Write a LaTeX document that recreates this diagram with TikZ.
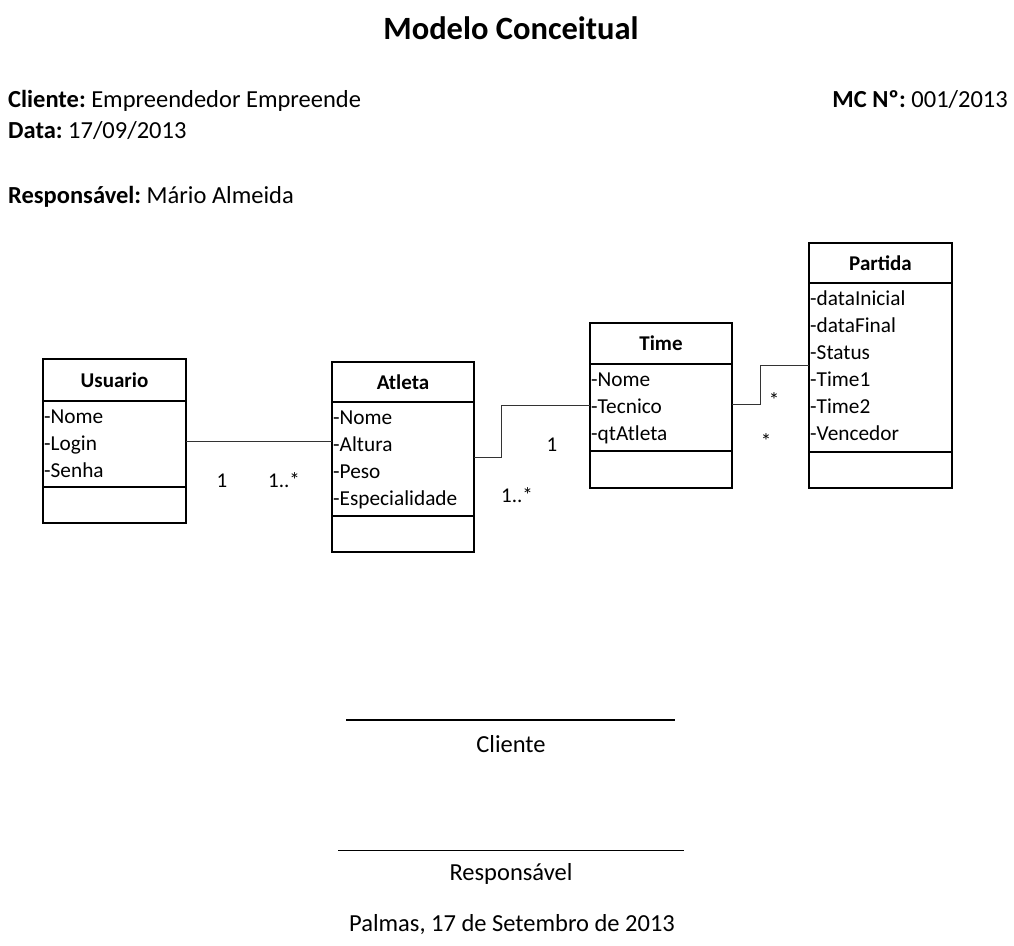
\documentclass[tikz,border=0pt]{standalone}
\usepackage{fontspec}
\setmainfont{Carlito}
\usetikzlibrary{fit}
\frenchspacing
\begin{document}
\begin{tikzpicture}[x=1pt,y=-1pt,
  classbox/.style={draw, line width=1.6pt, inner sep=0pt, outer sep=0pt},
  classname/.style={font=\bfseries\fontsize{21}{25}\selectfont, inner sep=0pt},
  attr/.style={font=\fontsize{21.3}{25}\selectfont, anchor=base west, inner sep=0pt},
  assoc/.style={line width=1pt, draw=black!80},
  mult/.style={font=\fontsize{21}{25}\selectfont, inner sep=0pt},
  hdr/.style={font=\fontsize{24.5}{29}\selectfont, anchor=base west, inner sep=0pt},
  foot/.style={font=\fontsize{24.5}{29}\selectfont, anchor=base, inner sep=0pt}]
\useasboundingbox (0,0) rectangle (1014,945);

% class box: name, left, top, right, bottom, name line, attribute line, title, attributes
\newcommand\umlclass[9]{%
  \node[classbox, fit={(#2,#3) (#4,#5)}] (#1) {};
  \draw[line width=1.6pt] (#2,#6) -- (#4,#6);
  \draw[line width=1.6pt] (#2,#7) -- (#4,#7);
  \node[classname] at ({(#2+#4)/2},{(#3+#6)/2}) {#8};
  \foreach \a [count=\i] in {#9}
    \node[attr] at ({#2+1},{#6+22+27*(\i-1)}) {\a};
}

% heading
\node[font=\bfseries\fontsize{32.5}{38}\selectfont, anchor=base, inner sep=0pt] (titulo) at (511,39.5) {Modelo Conceitual};
\node[hdr] (cliente) at (8,107) {\textbf{Cliente:} Empreendedor Empreende};
\node[hdr] (data) at (8,138) {\textbf{Data:} 17/09/2013};
\node[hdr] (resp) at (8,203.5) {\textbf{Responsável:} Mário Almeida};
\node[hdr, anchor=base east] (mc) at (1008,107) {\textbf{MC Nº:} 001/2013};

% classes
\umlclass{usuario}{43}{359}{186}{523}{401}{487}{Usuario}{-Nome,-Login,-Senha}
\umlclass{atleta}{332}{362}{474}{552}{402}{516}{Atleta}{-Nome,-Altura,-Peso,-Especialidade}
\umlclass{time}{590}{323}{732}{488}{364}{451}{Time}{-Nome,-Tecnico,-qtAtleta}
\umlclass{partida}{809}{243}{952}{488}{283}{452}{Partida}{-dataInicial,-dataFinal,-Status,-Time1,-Time2,-Vencedor}

% associations
\draw[assoc] (usuario.east |- 0,441) -- (atleta.west |- 0,441);
\draw[assoc] (atleta.east |- 0,457) -- (501,457) -- (501,405) -- (time.west |- 0,405);
\draw[assoc] (time.east |- 0,404) -- (760,404) -- (760,365) -- (partida.west |- 0,365);

% multiplicities
\node[mult] (m1) at (222,481) {1};
\node[mult] (m2) at (284,480) {1..*};
\node[mult] (m3) at (552,445) {1};
\node[mult] (m4) at (517,495) {1..*};
\node[mult] (m5) at (774,400) {*};
\node[mult] (m6) at (766,441) {*};

% signatures
\draw[line width=2pt] (346,720) -- (675,720);
\node[foot] (sigcli) at (511,752) {Cliente};
\draw[line width=1pt] (338,850) -- (684,850);
\node[foot] (sigresp) at (511,880.5) {Responsável};
\node[foot] (local) at (512,931) {Palmas, 17 de Setembro de 2013};
\end{tikzpicture}
\end{document}
